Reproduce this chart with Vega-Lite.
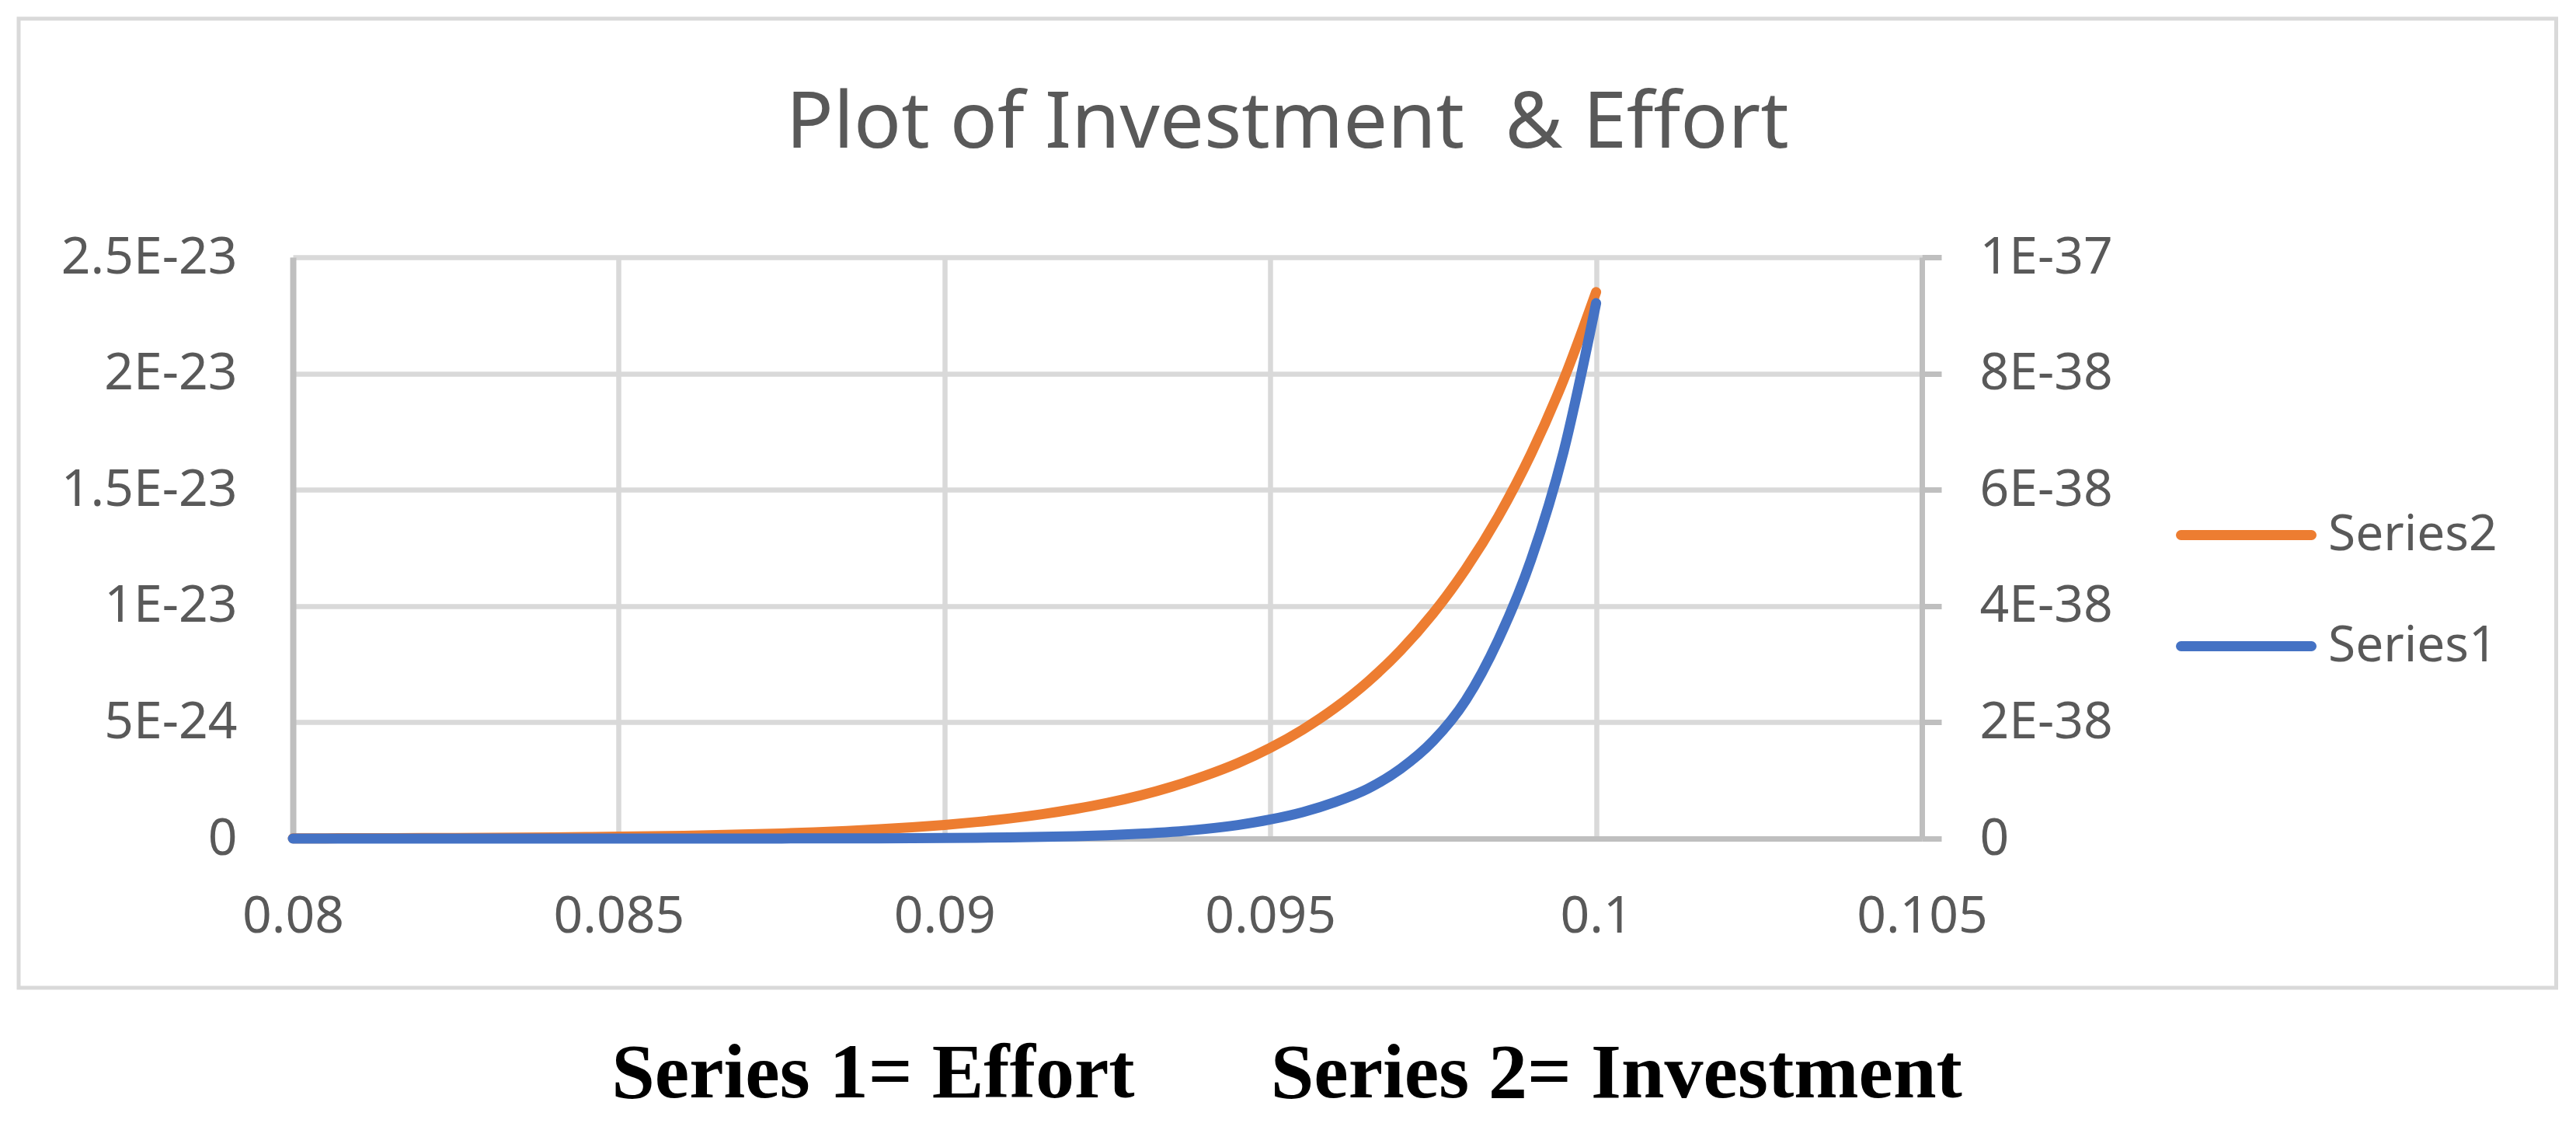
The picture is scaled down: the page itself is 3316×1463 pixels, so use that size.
{
  "$schema": "https://vega.github.io/schema/vega-lite/v6.json",
  "width": 3266.5,
  "height": 1247,
  "autosize": {"type": "none"},
  "padding": {"left": 24, "top": 24, "right": 26, "bottom": 192},
  "background": "white",
  "config": {"view": {"stroke": "#d9d9d9", "strokeWidth": 5}, "font": "Noto Sans"},
  "title": {"text": "Plot of Investment \u00a0& Effort", "fontSize": 101, "font": "Noto Sans", "fontWeight": "normal", "color": "#595959", "anchor": "middle", "frame": "group", "offset": -267, "baseline": "alphabetic"},
  "data": {"values": [
    {"x": 0.08, "series": "Series2", "y": 9.5e-27},
    {"x": 0.0805, "series": "Series2", "y": 1.18e-26},
    {"x": 0.081, "series": "Series2", "y": 1.47e-26},
    {"x": 0.0815, "series": "Series2", "y": 1.83e-26},
    {"x": 0.082, "series": "Series2", "y": 2.26e-26},
    {"x": 0.0825, "series": "Series2", "y": 2.8e-26},
    {"x": 0.083, "series": "Series2", "y": 3.46e-26},
    {"x": 0.0835, "series": "Series2", "y": 4.28e-26},
    {"x": 0.084, "series": "Series2", "y": 5.27e-26},
    {"x": 0.0845, "series": "Series2", "y": 6.48e-26},
    {"x": 0.085, "series": "Series2", "y": 7.97e-26},
    {"x": 0.0855, "series": "Series2", "y": 9.78e-26},
    {"x": 0.086, "series": "Series2", "y": 1.2e-25},
    {"x": 0.0865, "series": "Series2", "y": 1.47e-25},
    {"x": 0.087, "series": "Series2", "y": 1.8e-25},
    {"x": 0.0875, "series": "Series2", "y": 2.19e-25},
    {"x": 0.088, "series": "Series2", "y": 2.68e-25},
    {"x": 0.0885, "series": "Series2", "y": 3.27e-25},
    {"x": 0.089, "series": "Series2", "y": 3.98e-25},
    {"x": 0.0895, "series": "Series2", "y": 4.84e-25},
    {"x": 0.09, "series": "Series2", "y": 5.88e-25},
    {"x": 0.0905, "series": "Series2", "y": 7.14e-25},
    {"x": 0.091, "series": "Series2", "y": 8.66e-25},
    {"x": 0.0915, "series": "Series2", "y": 1.05e-24},
    {"x": 0.092, "series": "Series2", "y": 1.27e-24},
    {"x": 0.0925, "series": "Series2", "y": 1.53e-24},
    {"x": 0.093, "series": "Series2", "y": 1.85e-24},
    {"x": 0.0935, "series": "Series2", "y": 2.24e-24},
    {"x": 0.094, "series": "Series2", "y": 2.7e-24},
    {"x": 0.0945, "series": "Series2", "y": 3.24e-24},
    {"x": 0.095, "series": "Series2", "y": 3.9e-24},
    {"x": 0.0955, "series": "Series2", "y": 4.69e-24},
    {"x": 0.096, "series": "Series2", "y": 5.63e-24},
    {"x": 0.0965, "series": "Series2", "y": 6.75e-24},
    {"x": 0.097, "series": "Series2", "y": 8.09e-24},
    {"x": 0.0975, "series": "Series2", "y": 9.69e-24},
    {"x": 0.098, "series": "Series2", "y": 1.159e-23},
    {"x": 0.0985, "series": "Series2", "y": 1.385e-23},
    {"x": 0.099, "series": "Series2", "y": 1.653e-23},
    {"x": 0.0995, "series": "Series2", "y": 1.972e-23},
    {"x": 0.1, "series": "Series2", "y": 2.35e-23},
    {"x": 0.08, "series": "Series1", "y": 4.6e-44},
    {"x": 0.0805, "series": "Series1", "y": 6.9e-44},
    {"x": 0.081, "series": "Series1", "y": 1.03e-43},
    {"x": 0.0815, "series": "Series1", "y": 1.5e-43},
    {"x": 0.082, "series": "Series1", "y": 2.3e-43},
    {"x": 0.0825, "series": "Series1", "y": 3.4e-43},
    {"x": 0.083, "series": "Series1", "y": 5.1e-43},
    {"x": 0.0835, "series": "Series1", "y": 7.5e-43},
    {"x": 0.084, "series": "Series1", "y": 1.1e-42},
    {"x": 0.0845, "series": "Series1", "y": 1.6e-42},
    {"x": 0.085, "series": "Series1", "y": 2.4e-42},
    {"x": 0.0855, "series": "Series1", "y": 3.5e-42},
    {"x": 0.086, "series": "Series1", "y": 5.1e-42},
    {"x": 0.0865, "series": "Series1", "y": 7.4e-42},
    {"x": 0.087, "series": "Series1", "y": 1.08e-41},
    {"x": 0.0875, "series": "Series1", "y": 1.57e-41},
    {"x": 0.088, "series": "Series1", "y": 2.27e-41},
    {"x": 0.0885, "series": "Series1", "y": 3.28e-41},
    {"x": 0.089, "series": "Series1", "y": 4.72e-41},
    {"x": 0.0895, "series": "Series1", "y": 6.8e-41},
    {"x": 0.09, "series": "Series1", "y": 9.78e-41},
    {"x": 0.0905, "series": "Series1", "y": 1.4e-40},
    {"x": 0.091, "series": "Series1", "y": 2.0e-40},
    {"x": 0.0915, "series": "Series1", "y": 2.86e-40},
    {"x": 0.092, "series": "Series1", "y": 4.08e-40},
    {"x": 0.0925, "series": "Series1", "y": 5.8e-40},
    {"x": 0.093, "series": "Series1", "y": 8.23e-40},
    {"x": 0.0935, "series": "Series1", "y": 1.166e-39},
    {"x": 0.094, "series": "Series1", "y": 1.65e-39},
    {"x": 0.0945, "series": "Series1", "y": 2.33e-39},
    {"x": 0.095, "series": "Series1", "y": 3.28e-39},
    {"x": 0.0955, "series": "Series1", "y": 4.55e-39},
    {"x": 0.096, "series": "Series1", "y": 6.3e-39},
    {"x": 0.0965, "series": "Series1", "y": 8.6e-39},
    {"x": 0.097, "series": "Series1", "y": 1.2e-38},
    {"x": 0.0975, "series": "Series1", "y": 1.68e-38},
    {"x": 0.098, "series": "Series1", "y": 2.38e-38},
    {"x": 0.0985, "series": "Series1", "y": 3.42e-38},
    {"x": 0.099, "series": "Series1", "y": 4.79e-38},
    {"x": 0.0995, "series": "Series1", "y": 6.65e-38},
    {"x": 0.1, "series": "Series1", "y": 9.21e-38}
  ]},
  "encoding": {
    "color": {
      "field": "series", "type": "nominal",
      "scale": {"domain": ["Series2", "Series1"], "range": ["#ED7D31", "#4472C4"]},
      "legend": {
        "title": null, "orient": "none", "legendX": 2777, "legendY": 574,
        "symbolType": "stroke", "symbolSize": 28224, "symbolStrokeWidth": 13,
        "labelFont": "Noto Sans", "labelFontSize": 64, "labelColor": "#595959", "labelOffset": 15, "labelLimit": 600,
        "rowPadding": 20, "padding": 0,
        "encode": {"symbols": {"update": {"strokeCap": {"value": "round"}}}}
      }
    }
  },
  "layer": [
    {
      "transform": [{"filter": "datum.series === 'Series2'"}],
      "mark": {"type": "line", "strokeWidth": 13, "strokeCap": "round", "strokeJoin": "round", "interpolate": "monotone"},
      "encoding": {
        "x": {
          "field": "x", "type": "quantitative",
          "scale": {"domain": [0.08, 0.105], "range": [353, 2450], "nice": false, "zero": false},
          "axis": {
            "orient": "bottom", "offset": -192,
            "values": [0.08, 0.085, 0.09, 0.095, 0.1, 0.105],
            "labelExpr": "format(datum.value, '.3~g')",
            "grid": false,
            "domainColor": "#bfbfbf", "domainWidth": 7, "ticks": false,
            "labelFont": "Noto Sans", "labelFontSize": 66, "labelColor": "#595959", "labelPadding": 68,
            "labelFlush": false, "labelOverlap": false, "labelLimit": 0,
            "title": "Series 1= Effort\u00a0\u00a0\u00a0\u00a0\u00a0\u00a0\u00a0Series 2= Investment",
            "titleFont": "Liberation Serif", "titleFontSize": 100, "titleFontWeight": "bold", "titleColor": "black",
            "titleX": 1632, "titleY": 332, "titleAlign": "center", "titleBaseline": "alphabetic", "titleAngle": 0
          }
        },
        "y": {
          "field": "y", "type": "quantitative",
          "scale": {"domain": [0, 2.5e-23], "range": [1055, 307], "nice": false, "zero": false},
          "axis": {
            "orient": "left", "offset": -353,
            "values": [0, 5e-24, 1e-23, 1.5e-23, 2e-23, 2.5e-23],
            "labelExpr": "datum.value == 0 ? '0' : upper(format(datum.value, '~e'))",
            "grid": true, "gridColor": "#d9d9d9", "gridWidth": 6.5,
            "domainColor": "#bfbfbf", "domainWidth": 8, "ticks": false,
            "labelFont": "Noto Sans", "labelFontSize": 66, "labelColor": "#595959", "labelPadding": 72,
            "labelOverlap": false, "labelLimit": 0, "title": null
          }
        }
      }
    },
    {
      "transform": [{"filter": "datum.series === 'Series1'"}],
      "mark": {"type": "line", "strokeWidth": 13, "strokeCap": "round", "strokeJoin": "round", "interpolate": "monotone"},
      "encoding": {
        "x": {
          "field": "x", "type": "quantitative",
          "scale": {"domain": [0.08, 0.105], "range": [353, 2450], "nice": false, "zero": false},
          "axis": {
            "orient": "top", "offset": 0,
            "values": [0.08, 0.085, 0.09, 0.095, 0.1, 0.105],
            "grid": true, "gridColor": "#d9d9d9", "gridWidth": 6.5,
            "domain": false, "ticks": false, "labels": false, "title": null
          }
        },
        "y": {
          "field": "y", "type": "quantitative",
          "scale": {"domain": [0, 1e-37], "range": [1055, 307], "nice": false, "zero": false},
          "axis": {
            "orient": "right", "offset": -816.5,
            "values": [0, 2e-38, 4e-38, 6e-38, 8e-38, 1e-37],
            "labelExpr": "datum.value == 0 ? '0' : upper(format(datum.value, '~e'))",
            "grid": false,
            "domainColor": "#bfbfbf", "domainWidth": 7,
            "ticks": true, "tickSize": 25, "tickColor": "#bfbfbf", "tickWidth": 7,
            "labelFont": "Noto Sans", "labelFontSize": 66, "labelColor": "#595959", "labelPadding": 49,
            "labelOverlap": false, "labelLimit": 0, "title": null
          }
        }
      }
    }
  ],
  "resolve": {"scale": {"y": "independent"}, "axis": {"x": "independent"}}
}
